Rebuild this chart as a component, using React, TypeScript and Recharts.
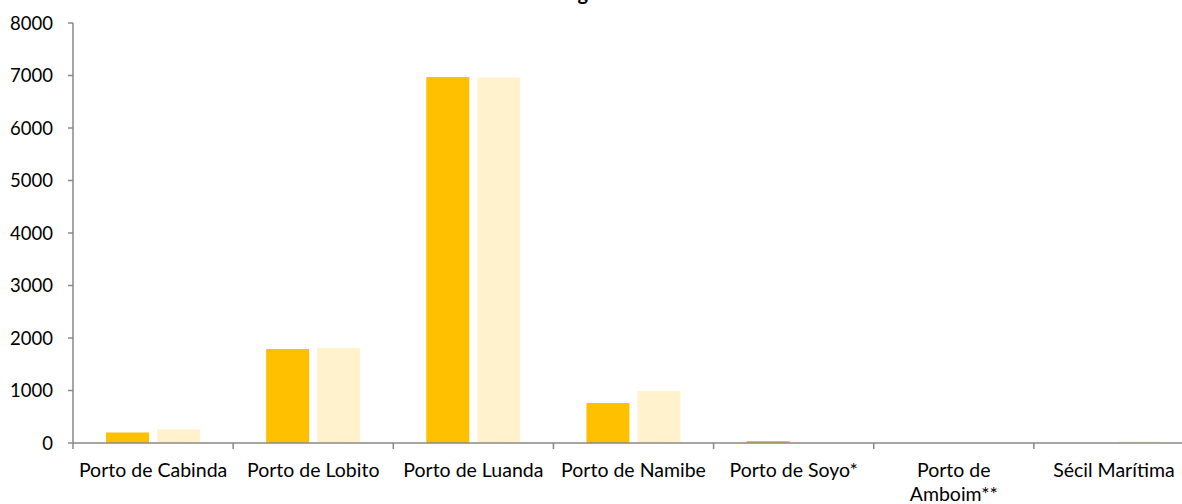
import React from 'react';
import { BarChart, Bar, XAxis, YAxis } from 'recharts';

// Carga por porto (duas séries)
const ports = [
  'Porto de Cabinda',
  'Porto de Lobito',
  'Porto de Luanda',
  'Porto de Namibe',
  'Porto de Soyo*',
  'Porto de Amboim**',
  'Sécil Marítima',
];
const tickLines = [
  ['Porto de Cabinda'],
  ['Porto de Lobito'],
  ['Porto de Luanda'],
  ['Porto de Namibe'],
  ['Porto de Soyo*'],
  ['Porto de', 'Amboim**'],
  ['Sécil Marítima'],
];
const serieA = [200, 1790, 6970, 760, 40, 0, 0];
const serieB = [260, 1810, 6960, 990, 0, 5, 30];
const yTicks = [0, 1000, 2000, 3000, 4000, 5000, 6000, 7000, 8000];

const title = 'Gráfico 8: Carga Movimentada';
const FONT = 'Lato, "Noto Sans", sans-serif';
const AXIS = '#898989';

const data = ports.map((p, i) => ({ port: p, a: serieA[i], b: serieB[i] }));

const PortTick = (props: any) => {
  const { x, y, payload, index } = props;
  const half = payload.offset || 0;
  const lines = tickLines[index] || [payload.value];
  return (
    <g>
      <line x1={x - half} x2={x - half} y1={y - 2} y2={y + 4} stroke={AXIS} strokeWidth={1.5} />
      {index === ports.length - 1 && (
        <line x1={x + half} x2={x + half} y1={y - 2} y2={y + 4} stroke={AXIS} strokeWidth={1.5} />
      )}
      <text x={x} y={y} textAnchor="middle" fontFamily={FONT} fontSize={19.5} fill="#000">
        {lines.map((l: string, k: number) => (
          <tspan key={k} x={x} dy={k === 0 ? 32 : 24}>{l}</tspan>
        ))}
      </text>
    </g>
  );
};

export default function App() {
  return (
    <div style={{ position: 'absolute', left: 0, top: 0, width: 1182, height: 504, overflow: 'hidden', background: '#fff' }}>
      <div
        style={{
          position: 'absolute', left: 0, width: 1182, top: -20.5, textAlign: 'center',
          fontFamily: FONT, fontWeight: 700, fontSize: 20, lineHeight: '24px', color: '#000',
        }}
      >
        {title}
      </div>
      <BarChart
        width={1194}
        height={504}
        data={data}
        margin={{ top: 23, right: 0, bottom: 0, left: 0 }}
        barGap={8}
        barSize={43}
      >
        <YAxis
          width={73}
          domain={[0, 8000]}
          ticks={yTicks}
          interval={0}
          stroke={AXIS}
          strokeWidth={1.5}
          tickSize={5}
          tickMargin={15}
          tick={{ fill: '#000', fontSize: 18.5, fontFamily: FONT }}
        />
        <XAxis
          dataKey="port"
          height={61}
          interval={0}
          stroke={AXIS}
          strokeWidth={1.5}
          tickLine={false}
          tickSize={0}
          tick={<PortTick />}
        />
        <Bar dataKey="a" fill="#FFC000" isAnimationActive={false} />
        <Bar dataKey="b" fill="#FFF2CC" isAnimationActive={false} />
      </BarChart>
    </div>
  );
}
